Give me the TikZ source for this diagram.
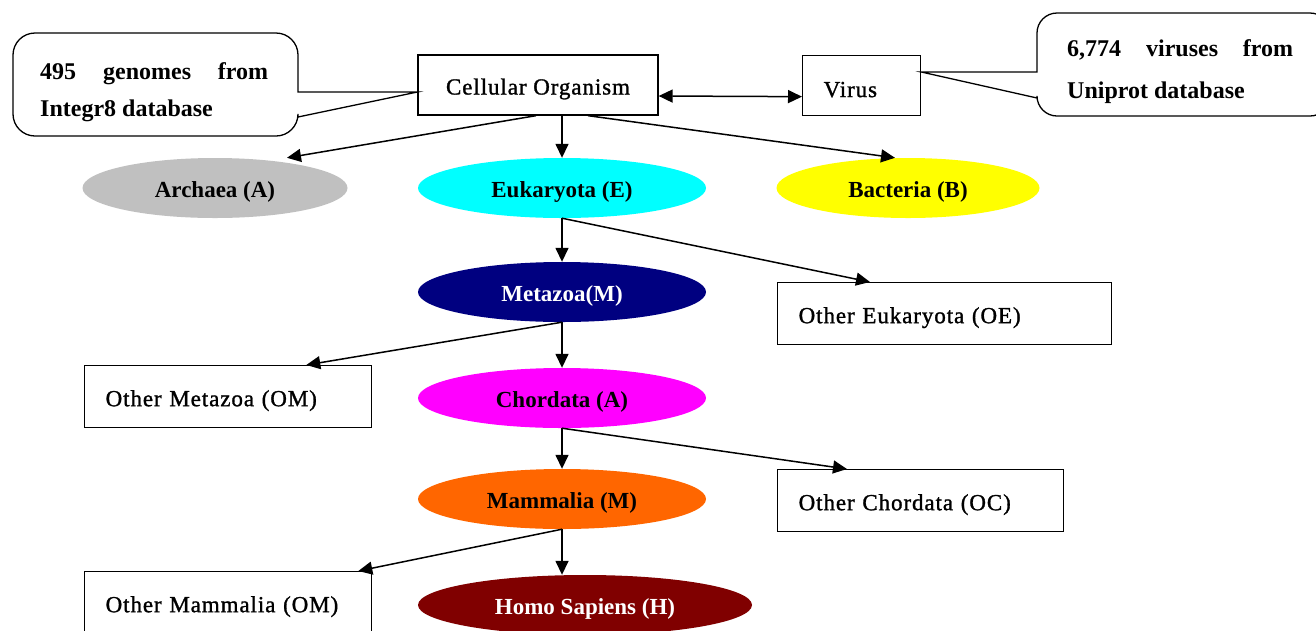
\documentclass[tikz,border=0pt]{standalone}
\usepackage{fontspec}
\setmainfont{Liberation Serif}
\newfontfamily\boxfont[FakeBold=1.2, LetterSpace=4]{Liberation Serif}
\usetikzlibrary{arrows.meta,shapes.geometric,calc}
\definecolor{archc}{HTML}{C0C0C0}
\definecolor{eukc}{HTML}{00FFFF}
\definecolor{bacc}{HTML}{FFFF00}
\definecolor{metc}{HTML}{000080}
\definecolor{chorc}{HTML}{FF00FF}
\definecolor{mamc}{HTML}{FF6600}
\definecolor{homc}{HTML}{800000}
\newcommand{\lowtxt}[1]{\raisebox{-4pt}[\height][\depth]{#1}}
\begin{document}
\begin{tikzpicture}[x=1pt,y=-1pt,
  every node/.style={font=\boxfont\fontsize{23}{26}\selectfont},
  ell/.style={ellipse, inner sep=0pt, minimum height=60pt, font=\bfseries\fontsize{23}{26}\selectfont},
  cbox/.style={draw, line width=1.3pt, inner sep=0pt, minimum height=60pt},
  lbox/.style={draw, line width=1.3pt, inner xsep=21pt, inner ysep=0pt, align=left, minimum height=62pt, anchor=north west},
  arr/.style={line width=1.5pt, -{Triangle[length=14pt,width=13pt]}},
  dblarr/.style={line width=1.5pt, {Triangle[length=14pt,width=13pt]}-{Triangle[length=14pt,width=13pt]}},
  callout/.style={line width=1.3pt},
  ctext/.style={inner sep=0pt, anchor=north west, align=justify, font=\bfseries\fontsize{24}{#1}\selectfont}
]
\useasboundingbox (0,0) rectangle (1316,630);

% boxes
\node[cbox, minimum width=240pt] (co) at (538,85) {\lowtxt{Cellular Organism}};
\node[lbox, text width=76pt, minimum height=60pt] (vir) at (802,55) {\lowtxt{Virus}};
\node[lbox, text width=292pt] (oe) at (777,282) {\lowtxt{Other Eukaryota (OE)}};
\node[lbox, text width=245pt] (om) at (84,365) {\lowtxt{Other Metazoa (OM)}};
\node[lbox, text width=244pt] (oc) at (777,469) {\lowtxt{Other Chordata (OC)}};
\node[lbox, text width=245pt] (omam) at (84,571) {\lowtxt{Other Mammalia (OM)}};

% ellipses
\node[ell, fill=archc, minimum width=265pt] (arch) at (215,188) {\lowtxt{Archaea (A)}};
\node[ell, fill=eukc, minimum width=288pt] (euk) at (562,188) {\lowtxt{Eukaryota (E)}};
\node[ell, fill=bacc, minimum width=263pt] (bac) at (908,188) {\lowtxt{Bacteria (B)}};
\node[ell, fill=metc, text=white, minimum width=288pt] (met) at (562,292) {\lowtxt{Metazoa(M)}};
\node[ell, fill=chorc, minimum width=288pt] (chor) at (562,398) {\lowtxt{Chordata (A)}};
\node[ell, fill=mamc, minimum width=288pt] (mam) at (562,499) {\lowtxt{Mammalia (M)}};
\node[ell, fill=homc, text=white, minimum width=334pt] (hom) at (585,605) {\lowtxt{Homo Sapiens (H)}};

% callouts
\draw[callout] (298,117) [rounded corners=22pt] -- (298,136) -- (13,136) -- (13,33) -- (298,33) [sharp corners] -- (298,92) -- (co.west |- 0,92) -- cycle;
\node[ctext=37pt, text width=228pt] (ct1) at (40,62) {495 genomes from\linebreak Integr8 database};

\draw[callout] (1037,98) [rounded corners=20pt] -- (1037,116) -- (1330,116) -- (1330,13) -- (1037,13) [sharp corners] -- (1037,72) -- (vir.east |- 0,72) -- cycle;
\node[ctext=42pt, text width=226pt] (ct2) at (1067,39) {6,774 viruses from\linebreak Uniprot database};

% arrows
\draw[dblarr] ([yshift=-11pt]co.east) -- ([yshift=-11pt]vir.west);
\draw[arr] ([xshift=-2pt]co.south) -- ([xshift=72pt]arch.north);
\draw[arr] (euk.north |- co.south) -- (euk.north);
\draw[arr] ([xshift=50pt]co.south) -- ([xshift=-13pt]bac.north);
\draw[arr] (euk.south) -- (met.north);
\draw[arr] (euk.south) -- ([xshift=93pt]oe.north west);
\draw[arr] (met.south) -- (chor.north);
\draw[arr] (met.south) -- ([xshift=-66pt]om.north east);
\draw[arr] (chor.south) -- (mam.north);
\draw[arr] (chor.south) -- ([xshift=70pt]oc.north west);
\draw[arr] (mam.south) -- (mam.south |- hom.north);
\draw[arr] (mam.south) -- ([xshift=-14pt]omam.north east);
\end{tikzpicture}
\end{document}
